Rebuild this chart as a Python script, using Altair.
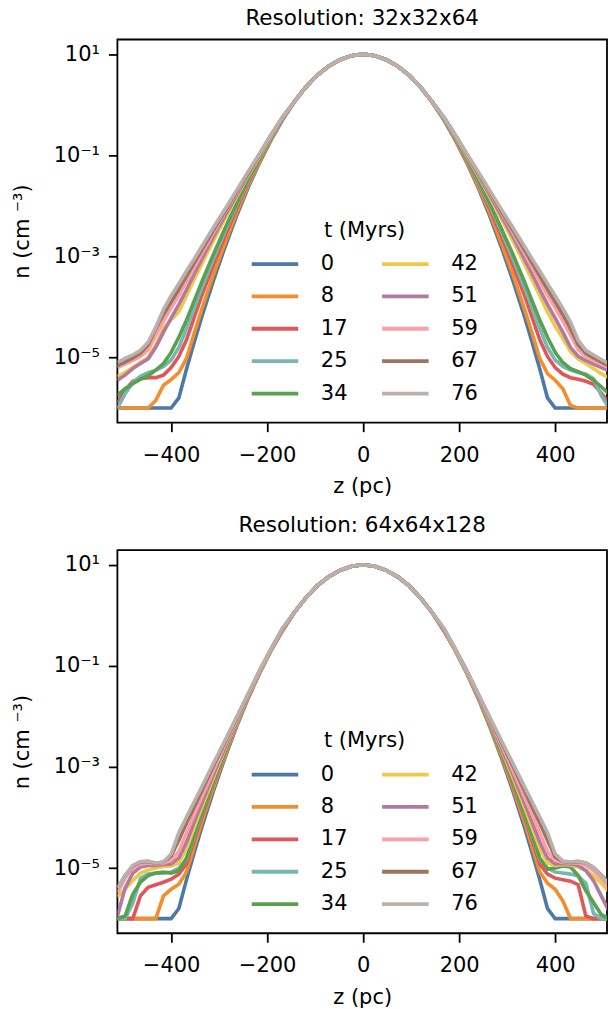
import altair as alt
import pandas as pd

# ---------------- data (log10 n) ----------------
Z_PC = [-512, -496, -480, -464, -448, -432, -416, -400, -384, -368, -352, -336, -312, -288, -264, -240, -216, -192, -168,
        -144, -120, -96, -72, -48, -24, 0, 24, 48, 72, 96, 120, 144,
        168, 192, 216, 240, 264, 288, 312, 336, 352, 368, 384, 400, 416, 432, 448, 464, 480, 496, 512]

TIMES = ["0", "8", "17", "25", "34", "42", "51", "59", "67", "76"]
COLORS = ["#4e79a7", "#f28e2b", "#e15759", "#76b7b2", "#59a14f",
          "#edc948", "#b07aa1", "#ff9da7", "#9c755f", "#bab0ac"]

# Resolution 32x32x64
LO_T0 = [-6.00, -6.00, -6.00, -6.00, -6.00, -6.00, -6.00, -6.00, -5.80, -5.23, -4.70, -4.19, -3.48, -2.82, -2.21, -1.65, -1.15, -0.70, -0.30,
         0.05, 0.34, 0.58, 0.76, 0.89, 0.97, 1.00, 0.97, 0.89, 0.76, 0.58, 0.34, 0.05,
         -0.30, -0.70, -1.15, -1.65, -2.21, -2.82, -3.48, -4.19, -4.70, -5.23, -5.80, -6.00, -6.00, -6.00, -6.00, -6.00, -6.00, -6.00, -6.00]
LO_T8 = [-6.00, -6.00, -6.00, -6.00, -6.00, -5.85, -5.55, -5.44, -5.30, -5.02, -4.52, -4.04, -3.36, -2.74, -2.15, -1.61, -1.13, -0.69, -0.29,
         0.05, 0.34, 0.58, 0.76, 0.89, 0.97, 1.00, 0.97, 0.89, 0.76, 0.58, 0.34, 0.05,
         -0.29, -0.69, -1.13, -1.61, -2.15, -2.74, -3.36, -4.04, -4.52, -5.02, -5.32, -5.45, -5.62, -5.95, -6.00, -6.00, -6.00, -6.00, -6.00]
LO_T17 = [-5.90, -5.65, -5.47, -5.42, -5.40, -5.40, -5.35, -5.20, -4.98, -4.65, -4.21, -3.77, -3.17, -2.60, -2.06, -1.55, -1.10, -0.67, -0.29,
          0.05, 0.34, 0.58, 0.76, 0.89, 0.97, 1.00, 0.97, 0.89, 0.76, 0.58, 0.34, 0.05,
          -0.29, -0.67, -1.10, -1.55, -2.06, -2.60, -3.17, -3.77, -4.21, -4.65, -4.98, -5.20, -5.33, -5.40, -5.43, -5.47, -5.53, -5.70, -5.90]
LO_T25 = [-6.00, -5.72, -5.50, -5.37, -5.30, -5.25, -5.18, -5.05, -4.80, -4.43, -4.02, -3.62, -3.05, -2.51, -2.00, -1.52, -1.08, -0.66, -0.28,
          0.05, 0.34, 0.58, 0.76, 0.89, 0.97, 1.00, 0.97, 0.89, 0.76, 0.58, 0.34, 0.05,
          -0.28, -0.66, -1.08, -1.52, -2.00, -2.51, -3.05, -3.62, -4.02, -4.43, -4.80, -5.05, -5.18, -5.25, -5.30, -5.33, -5.42, -5.75, -6.00]
LO_T34 = [-5.75, -5.62, -5.52, -5.43, -5.36, -5.25, -5.12, -4.90, -4.60, -4.26, -3.88, -3.50, -2.96, -2.45, -1.96, -1.49, -1.06, -0.65, -0.28,
          0.05, 0.34, 0.58, 0.76, 0.89, 0.97, 1.00, 0.97, 0.89, 0.76, 0.58, 0.34, 0.05,
          -0.28, -0.65, -1.06, -1.49, -1.96, -2.45, -2.96, -3.50, -3.88, -4.26, -4.60, -4.90, -5.10, -5.22, -5.28, -5.35, -5.45, -5.58, -5.72]
LO_T42 = [-5.38, -5.30, -5.20, -5.10, -5.00, -4.75, -4.42, -4.25, -4.10, -3.78, -3.46, -3.15, -2.69, -2.26, -1.83, -1.41, -1.02, -0.63, -0.26,
          0.05, 0.34, 0.58, 0.76, 0.89, 0.97, 1.00, 0.97, 0.89, 0.76, 0.58, 0.34, 0.05,
          -0.26, -0.63, -1.02, -1.41, -1.83, -2.26, -2.69, -3.15, -3.46, -3.78, -4.10, -4.38, -4.62, -4.88, -5.03, -5.12, -5.22, -5.32, -5.40]
LO_T51 = [-5.45, -5.35, -5.22, -5.12, -5.03, -4.80, -4.50, -4.22, -3.95, -3.66, -3.35, -3.05, -2.61, -2.20, -1.79, -1.39, -1.00, -0.62, -0.26,
          0.05, 0.34, 0.58, 0.76, 0.89, 0.97, 1.00, 0.97, 0.89, 0.76, 0.58, 0.34, 0.05,
          -0.26, -0.62, -1.00, -1.39, -1.79, -2.20, -2.61, -3.05, -3.35, -3.66, -3.95, -4.22, -4.50, -4.80, -4.98, -5.06, -5.13, -5.20, -5.26]
LO_T59 = [-5.20, -5.13, -5.06, -4.98, -4.85, -4.56, -4.28, -4.02, -3.77, -3.50, -3.22, -2.94, -2.53, -2.13, -1.74, -1.36, -0.99, -0.61, -0.25,
          0.05, 0.34, 0.58, 0.76, 0.89, 0.97, 1.00, 0.97, 0.89, 0.76, 0.58, 0.34, 0.05,
          -0.25, -0.61, -0.99, -1.36, -1.74, -2.13, -2.53, -2.94, -3.22, -3.50, -3.77, -4.02, -4.28, -4.56, -4.85, -4.98, -5.06, -5.13, -5.20]
LO_T67 = [-5.16, -5.09, -5.01, -4.92, -4.75, -4.43, -4.15, -3.90, -3.65, -3.39, -3.13, -2.87, -2.48, -2.11, -1.72, -1.35, -0.98, -0.60, -0.25,
          0.05, 0.34, 0.58, 0.76, 0.89, 0.97, 1.00, 0.97, 0.89, 0.76, 0.58, 0.34, 0.05,
          -0.25, -0.60, -0.98, -1.35, -1.72, -2.11, -2.48, -2.87, -3.13, -3.39, -3.65, -3.90, -4.15, -4.43, -4.75, -4.92, -5.01, -5.09, -5.16]
LO_T76 = [-5.10, -5.02, -4.95, -4.86, -4.70, -4.40, -4.05, -3.78, -3.54, -3.29, -3.05, -2.80, -2.43, -2.07, -1.70, -1.33, -0.97, -0.60, -0.25,
          0.05, 0.34, 0.58, 0.76, 0.89, 0.97, 1.00, 0.97, 0.89, 0.76, 0.58, 0.34, 0.05,
          -0.25, -0.60, -0.97, -1.33, -1.70, -2.07, -2.43, -2.80, -3.05, -3.29, -3.54, -3.78, -4.03, -4.30, -4.66, -4.86, -4.95, -5.04, -5.12]

# Resolution 64x64x128
HI_T0 = [-6.00, -6.00, -6.00, -6.00, -6.00, -6.00, -6.00, -6.00, -5.80, -5.23, -4.70, -4.19, -3.48, -2.82, -2.21, -1.65, -1.15, -0.70, -0.30,
         0.05, 0.34, 0.58, 0.76, 0.89, 0.97, 1.00, 0.97, 0.89, 0.76, 0.58, 0.34, 0.05,
         -0.30, -0.70, -1.15, -1.65, -2.21, -2.82, -3.48, -4.19, -4.70, -5.23, -5.80, -6.00, -6.00, -6.00, -6.00, -6.00, -6.00, -6.00, -6.00]
HI_T8 = [-6.00, -6.00, -6.00, -6.00, -6.00, -6.00, -5.55, -5.42, -5.32, -5.08, -4.58, -4.09, -3.41, -2.78, -2.19, -1.64, -1.14, -0.70, -0.30,
         0.05, 0.34, 0.58, 0.76, 0.89, 0.97, 1.00, 0.97, 0.89, 0.76, 0.58, 0.34, 0.05,
         -0.30, -0.70, -1.14, -1.64, -2.19, -2.78, -3.41, -4.09, -4.58, -5.08, -5.30, -5.42, -5.65, -6.00, -6.00, -6.00, -6.00, -6.00, -6.00]
HI_T17 = [-6.00, -6.00, -6.00, -5.55, -5.38, -5.33, -5.28, -5.22, -5.12, -4.92, -4.45, -3.99, -3.34, -2.73, -2.16, -1.63, -1.14, -0.69, -0.30,
          0.05, 0.34, 0.58, 0.76, 0.89, 0.97, 1.00, 0.97, 0.89, 0.76, 0.58, 0.34, 0.05,
          -0.30, -0.69, -1.14, -1.63, -2.16, -2.73, -3.34, -3.99, -4.45, -4.92, -5.12, -5.20, -5.23, -5.26, -5.33, -5.95, -6.00, -6.00, -6.00]
HI_T25 = [-6.00, -6.00, -5.70, -5.20, -5.12, -5.10, -5.10, -5.08, -5.00, -4.83, -4.38, -3.93, -3.30, -2.71, -2.15, -1.62, -1.13, -0.69, -0.29,
          0.05, 0.34, 0.58, 0.76, 0.89, 0.97, 1.00, 0.97, 0.89, 0.76, 0.58, 0.34, 0.05,
          -0.29, -0.69, -1.13, -1.62, -2.15, -2.71, -3.30, -3.93, -4.38, -4.83, -5.00, -5.08, -5.10, -5.12, -5.16, -5.30, -5.90, -6.00, -6.00]
HI_T34 = [-6.00, -5.95, -5.52, -5.28, -5.15, -5.10, -5.08, -5.10, -5.05, -4.80, -4.35, -3.91, -3.29, -2.70, -2.14, -1.62, -1.13, -0.69, -0.29,
          0.05, 0.34, 0.58, 0.76, 0.89, 0.97, 1.00, 0.97, 0.89, 0.76, 0.58, 0.34, 0.05,
          -0.29, -0.69, -1.13, -1.62, -2.14, -2.70, -3.29, -3.91, -4.35, -4.80, -5.02, -5.00, -4.96, -4.98, -5.15, -5.45, -5.68, -5.92, -6.00]
HI_T42 = [-5.57, -5.42, -5.25, -5.10, -5.04, -5.00, -4.97, -4.96, -4.90, -4.61, -4.20, -3.79, -3.21, -2.65, -2.12, -1.61, -1.13, -0.69, -0.28,
          0.05, 0.34, 0.58, 0.76, 0.89, 0.97, 1.00, 0.97, 0.89, 0.76, 0.58, 0.34, 0.05,
          -0.28, -0.69, -1.13, -1.61, -2.12, -2.65, -3.21, -3.79, -4.20, -4.61, -4.90, -4.95, -4.93, -4.94, -4.98, -5.05, -5.15, -5.30, -5.47]
HI_T51 = [-5.95, -5.40, -5.10, -4.98, -4.95, -4.95, -4.93, -4.92, -4.80, -4.49, -4.09, -3.71, -3.15, -2.62, -2.10, -1.60, -1.12, -0.68, -0.28,
          0.05, 0.34, 0.58, 0.76, 0.89, 0.97, 1.00, 0.97, 0.89, 0.76, 0.58, 0.34, 0.05,
          -0.28, -0.68, -1.12, -1.60, -2.10, -2.62, -3.15, -3.71, -4.09, -4.49, -4.80, -4.92, -4.91, -4.92, -4.95, -5.05, -5.25, -5.55, -5.85]
HI_T59 = [-5.50, -5.20, -5.00, -4.92, -4.90, -4.92, -4.90, -4.85, -4.67, -4.30, -3.94, -3.59, -3.07, -2.56, -2.07, -1.58, -1.11, -0.68, -0.27,
          0.05, 0.34, 0.58, 0.76, 0.89, 0.97, 1.00, 0.97, 0.89, 0.76, 0.58, 0.34, 0.05,
          -0.27, -0.68, -1.11, -1.58, -2.07, -2.56, -3.07, -3.59, -3.94, -4.30, -4.67, -4.85, -4.89, -4.90, -4.90, -4.95, -5.05, -5.20, -5.38]
HI_T67 = [-5.40, -5.15, -4.96, -4.88, -4.87, -4.91, -4.88, -4.76, -4.45, -4.11, -3.79, -3.47, -2.98, -2.51, -2.04, -1.57, -1.10, -0.67, -0.26,
          0.05, 0.34, 0.58, 0.76, 0.89, 0.97, 1.00, 0.97, 0.89, 0.76, 0.58, 0.34, 0.05,
          -0.26, -0.67, -1.10, -1.57, -2.04, -2.51, -2.98, -3.47, -3.79, -4.11, -4.45, -4.78, -4.87, -4.89, -4.87, -4.90, -4.99, -5.14, -5.30]
HI_T76 = [-5.40, -5.15, -4.95, -4.87, -4.86, -4.90, -4.88, -4.72, -4.30, -3.99, -3.69, -3.39, -2.93, -2.48, -2.02, -1.56, -1.10, -0.67, -0.25,
          0.05, 0.34, 0.58, 0.76, 0.89, 0.97, 1.00, 0.97, 0.89, 0.76, 0.58, 0.34, 0.05,
          -0.25, -0.67, -1.10, -1.56, -2.02, -2.48, -2.93, -3.39, -3.69, -3.99, -4.30, -4.72, -4.86, -4.88, -4.86, -4.90, -4.99, -5.15, -5.32]

LOW_RES = [LO_T0, LO_T8, LO_T17, LO_T25, LO_T34, LO_T42, LO_T51, LO_T59, LO_T67, LO_T76]
HIGH_RES = [HI_T0, HI_T8, HI_T17, HI_T25, HI_T34, HI_T42, HI_T51, HI_T59, HI_T67, HI_T76]

X_TICKS = [-400, -200, 0, 200, 400]
Y_TICKS = [1e-5, 1e-3, 1e-1, 1e1]

# ---------------- styling ----------------
FONT = "DejaVu Sans"
FS = 21
W, H = 490, 383.5

x_axis = alt.Axis(values=X_TICKS, title="z (pc)", labelExpr="replace(format(datum.value, 'd'), '-', '\u2212')",
                  labelPadding=12.5, titlePadding=10.5, grid=False, domain=False,
                  tickColor="black", tickWidth=1.8, tickSize=9,
                  labelFont=FONT, labelFontSize=FS, labelColor="black",
                  titleFont=FONT, titleFontSize=FS, titleFontWeight="normal", titleColor="black")
y_axis = alt.Axis(values=Y_TICKS, title="n (cm \u207b\u00b3)",
                  labelExpr="datum.value > 5 ? '10\u00b9' : datum.value > 0.05 ? '10\u207b\u00b9' : datum.value > 5e-4 ? '10\u207b\u00b3' : '10\u207b\u2075'",
                  labelPadding=9, titlePadding=21, grid=False, domain=False,
                  tickColor="black", tickWidth=1.8, tickSize=9,
                  labelFont=FONT, labelFontSize=FS, labelColor="black",
                  titleFont=FONT, titleFontSize=FS, titleFontWeight="normal", titleColor="black")

legend = alt.Legend(orient="none", legendX=134.4, legendY=180.5, title="t (Myrs)", columns=2,
                    symbolType="M-2.5,0H2.5", symbolSize=347, symbolStrokeWidth=3.8, symbolOffset=11.8,
                    labelOffset=34.4, columnPadding=26.5, rowPadding=10.45, titlePadding=11.6,
                    titleAnchor="middle", padding=0,
                    labelFont=FONT, labelFontSize=FS, labelColor="black",
                    titleFont=FONT, titleFontSize=FS, titleFontWeight="normal", titleColor="black")


def panel(title, series, title_offset):
    layers = []
    for t, vals in zip(TIMES, series):
        df = pd.DataFrame({"z": Z_PC, "n": [10 ** v for v in vals], "t": t})
        layers.append(
            alt.Chart(df).mark_line(strokeWidth=3.6, clip=True).encode(
                x=alt.X("z:Q", scale=alt.Scale(domain=[-512, 508], nice=False, zero=False), axis=x_axis),
                y=alt.Y("n:Q", scale=alt.Scale(type="log", domain=[10 ** -6.29, 10 ** 1.29], nice=False), axis=y_axis),
                color=alt.Color("t:N", scale=alt.Scale(domain=TIMES, range=COLORS), legend=legend),
            )
        )
    return alt.layer(*layers).properties(
        width=W, height=H,
        title=alt.TitleParams(title, font=FONT, fontSize=21.5, fontWeight="normal", color="black",
                              baseline="alphabetic", offset=title_offset),
    )


top = panel("Resolution: 32x32x64", LOW_RES, -6.8)
bottom = panel("Resolution: 64x64x128", HIGH_RES, -3.3)

chart = (
    alt.vconcat(top, bottom, spacing=15)
    .resolve_scale(color="independent")
    .resolve_legend(color="independent")
    .properties(background="white", padding={"left": 9.5, "top": 6.1, "right": 0, "bottom": 0})
    .configure_view(stroke="black", strokeWidth=1.8)
)

chart.save("out.html", embed_options={"renderer": "svg", "actions": False})
